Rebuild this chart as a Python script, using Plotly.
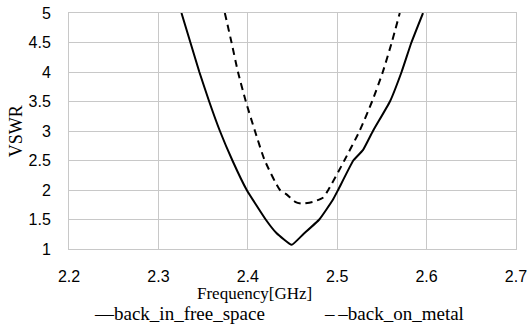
import plotly.graph_objects as go

free_f = [2.3258, 2.3358, 2.3458, 2.3568, 2.3688, 2.3828, 2.3988, 2.420, 2.432, 2.449,
          2.462, 2.480, 2.495, 2.501, 2.518, 2.529, 2.540, 2.559, 2.572, 2.583, 2.596]
free_v = [5.0, 4.5, 4.0, 3.5, 3.0, 2.5, 2.0, 1.5, 1.27, 1.07,
          1.25, 1.5, 1.83, 2.0, 2.5, 2.68, 3.0, 3.5, 4.0, 4.5, 5.0]

metal_f = [2.3743, 2.3818, 2.389, 2.3978, 2.408, 2.419, 2.436, 2.443, 2.453, 2.460,
           2.473, 2.484, 2.490, 2.508, 2.525, 2.539, 2.551, 2.561, 2.570]
metal_v = [5.0, 4.5, 4.0, 3.5, 3.0, 2.5, 2.0, 1.93, 1.80, 1.77,
           1.80, 1.87, 2.0, 2.5, 3.0, 3.5, 4.0, 4.5, 5.0]

x_ticks = [2.2, 2.3, 2.4, 2.5, 2.6, 2.7]
y_ticks = [1, 1.5, 2, 2.5, 3, 3.5, 4, 4.5, 5]

series_names = ["back_in_free_space", "back_on_metal"]

fig = go.Figure()
fig.add_trace(go.Scatter(x=free_f, y=free_v, mode="lines", name=series_names[0],
                         line=dict(color="black", width=2, shape="spline", smoothing=0.35)))
fig.add_trace(go.Scatter(x=metal_f, y=metal_v, mode="lines", name=series_names[1],
                         line=dict(color="black", width=2, dash="7px,5px", shape="spline",
                                   smoothing=0.6)))

grid = "#c8c8c8"
tickfont = dict(family="Liberation Sans", size=16, color="black")
fig.update_layout(
    width=527, height=334,
    margin=dict(l=69, r=11, t=13, b=85),
    plot_bgcolor="white", paper_bgcolor="white",
    showlegend=False,
    xaxis=dict(range=[2.19999, 2.70001], tickvals=x_ticks, ticktext=[f"{v:.1f}" for v in x_ticks],
               showgrid=True, gridcolor=grid, gridwidth=1, zeroline=False,
               showline=True, linecolor=grid, mirror=True, ticks="",
               ticklabelstandoff=13, tickfont=tickfont, automargin=False,
               ticklabeloverflow="allow"),
    yaxis=dict(range=[0.9999, 5.0001], tickvals=y_ticks, ticktext=[f"{v:g}" for v in y_ticks],
               showgrid=True, gridcolor=grid, gridwidth=1, zeroline=False,
               showline=True, linecolor=grid, mirror=True, ticks="",
               ticklabelstandoff=14, tickfont=tickfont, automargin=False,
               ticklabeloverflow="allow"),
)
serif = "Liberation Serif"
fig.add_annotation(text="VSWR", xref="paper", yref="paper", x=-0.118, y=0.5,
                   textangle=-90, xanchor="center", yanchor="middle", showarrow=False,
                   font=dict(family=serif, size=18, color="black"))
fig.add_annotation(text="Frequency[GHz]", xref="paper", yref="paper", x=0.416, y=-0.19,
                   xanchor="center", yanchor="middle", showarrow=False,
                   font=dict(family=serif, size=17, color="black"))
fig.add_annotation(text="\u2014" + series_names[0], xref="paper", yref="paper", x=0.051, y=-0.275,
                   xanchor="left", yanchor="middle", showarrow=False,
                   font=dict(family=serif, size=19, color="black"))
fig.add_annotation(text="\u2013\u2009\u2013" + series_names[1], xref="paper", yref="paper", x=0.566, y=-0.275,
                   xanchor="left", yanchor="middle", showarrow=False,
                   font=dict(family=serif, size=19, color="black"))
fig.write_html("out.html")
